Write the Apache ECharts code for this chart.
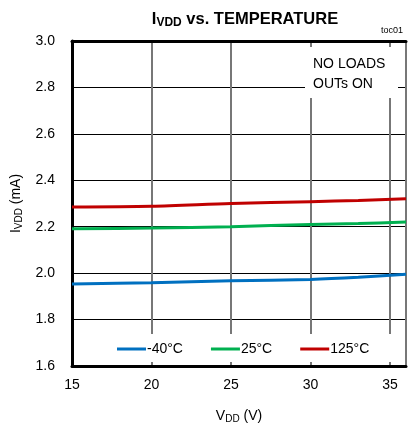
<!DOCTYPE html>
<html><head><meta charset="utf-8">
<script src="https://cdn.jsdelivr.net/npm/echarts@6/dist/echarts.min.js"></script>
<style>html,body{margin:0;padding:0;background:#fff}#c{width:409px;height:431px}</style>
</head><body><div id="c"></div>
<script>
const vdd = [15, 20, 25, 30, 33, 36];
const iMinus40 = [1.953, 1.959, 1.967, 1.973, 1.982, 1.995];
const i25 = [2.191, 2.194, 2.200, 2.210, 2.214, 2.220];
const i125 = [2.285, 2.288, 2.300, 2.308, 2.313, 2.320];
const seriesNames = ['-40°C', '25°C', '125°C'];
const seriesColors = ['#0070c0', '#00b050', '#c00000'];
const xTicks = [15, 20, 25, 30, 35];
const yTicks = [1.6, 1.8, 2.0, 2.2, 2.4, 2.6, 2.8, 3.0];

const F = '"Liberation Sans", Arial, sans-serif';
const chart = echarts.init(document.getElementById('c'));
const mk = (arr) => vdd.map((v, i) => [v, arr[i]]);
const allData = [iMinus40, i25, i125];
chart.setOption({
  animation: false,
  title: {
    text: '{a|I}{b|VDD}{a| vs. TEMPERATURE}',
    left: 240, top: 5, textAlign: 'center',
    textStyle: { rich: {
      a: { fontFamily: F, fontSize: 16.5, fontWeight: 'bold', color: '#000' },
      b: { fontFamily: F, fontSize: 12, fontWeight: 'bold', color: '#000', verticalAlign: 'bottom', padding: [7, 0, 0, 0] }
    } }
  },
  grid: { left: 72, right: 0, top: 41, bottom: 65, containLabel: false },
  legend: {
    data: seriesNames,
    left: 112, top: 337, z: 60,
    itemWidth: 29, itemHeight: 3, itemGap: 28,
    icon: 'rect',
    textStyle: { fontFamily: F, fontSize: 14, color: '#000', padding: [0, 0, 0, -4] }
  },
  xAxis: [{
    type: 'value', min: 15, max: 36, interval: 5,
    axisLine: { show: true, lineStyle: { color: '#000', width: 3 } },
    axisTick: { show: false },
    axisLabel: { fontFamily: F, fontSize: 14, color: '#000', margin: 12,
      formatter: v => xTicks.includes(v) ? String(v) : '' },
    splitLine: { show: true, lineStyle: { color: '#777', width: 2 } },
    name: '{a|V}{b|DD}{a| (V)}', nameLocation: 'middle', nameGap: 42,
    nameTextStyle: { rich: {
      a: { fontFamily: F, fontSize: 14, color: '#000' },
      b: { fontFamily: F, fontSize: 10, color: '#000', verticalAlign: 'bottom', padding: [6, 0, 0, 0] }
    } }
  }, {
    type: 'value', position: 'top', min: 15, max: 36,
    axisLine: { show: true, lineStyle: { color: '#000', width: 3 } },
    axisTick: { show: false }, axisLabel: { show: false }, splitLine: { show: false }
  }],
  yAxis: {
    type: 'value', min: 1.6, max: 3.0, interval: 0.2,
    axisLine: { show: true, lineStyle: { color: '#000', width: 3 } },
    axisTick: { show: false },
    axisLabel: { fontFamily: F, fontSize: 14, color: '#000', margin: 17,
      formatter: v => v.toFixed(1) },
    splitLine: { show: true, lineStyle: { color: '#000', width: 1 } },
    name: '{a|I}{b|VDD}{a| (mA)}', nameLocation: 'middle', nameGap: 48, nameRotate: 90,
    nameTextStyle: { rich: {
      a: { fontFamily: F, fontSize: 14, color: '#000' },
      b: { fontFamily: F, fontSize: 10, color: '#000', verticalAlign: 'bottom', padding: [6, 0, 0, 0] }
    } }
  },
  series: seriesNames.map((n, i) => ({
    name: n, type: 'line', data: mk(allData[i]), smooth: 0.3,
    symbol: 'none', lineStyle: { color: seriesColors[i], width: 3 },
    itemStyle: { color: seriesColors[i] }, z: 5
  })),
  graphic: [
    { type: 'text', left: 381, top: 26, z: 100, style: { text: 'toc01', font: '9px ' + F, fill: '#000' } },
    { type: 'rect', z: 50, shape: { x: 78, y: 334, width: 320, height: 28 }, style: { fill: '#fff' } },
    { type: 'rect', z: 50, shape: { x: 305, y: 47, width: 93, height: 51 }, style: { fill: '#fff' } },
    { type: 'text', z: 51, x: 313, y: 54, style: { text: 'NO LOADS\nOUTs ON', font: '14px ' + F, fill: '#000', lineHeight: 20 } }
  ]
});
</script></body></html>
